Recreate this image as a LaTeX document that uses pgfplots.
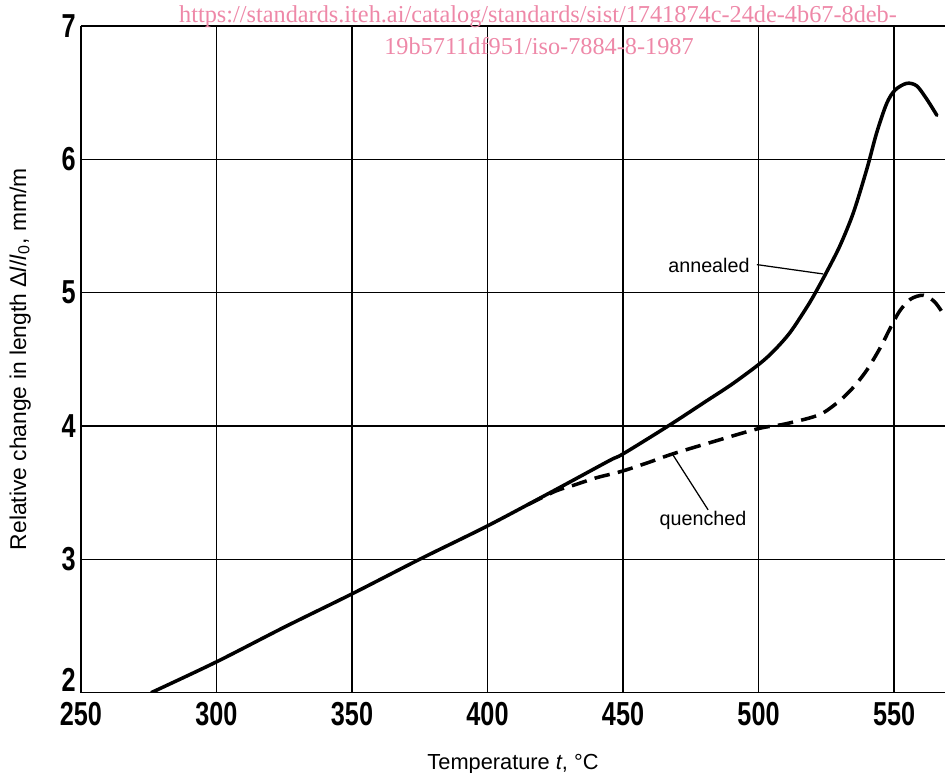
\documentclass[border=0pt]{standalone}
\usepackage{fontspec}
\setmainfont{Liberation Sans}
\newfontfamily\tickfont[FakeStretch=0.76]{Liberation Sans Bold}
\newfontfamily\wmfont{Liberation Serif}
\usepackage{pgfplots}
\pgfplotsset{compat=1.18}
\definecolor{Wm}{RGB}{238,136,168}

\pgfplotstableread{
t    dl
276   2.00
300   2.23
325   2.49
350   2.74
375   3.00
400   3.25
425   3.52
445   3.74
450   3.79
466.7 4.00
481   4.19
490   4.31
500   4.46
505.5 4.56
511.6 4.70
517.8 4.89
521   5.00
525   5.15
530   5.35
535   5.60
540   5.93
543.6 6.20
547.3 6.42
550.4 6.52
554.7 6.57
558.4 6.55
562.1 6.45
565.8 6.33
}\annealed
\pgfplotstableread{
t    dl
415   3.41
425   3.51
431.8 3.555
440   3.61
449.6 3.66
460   3.73
468.3 3.79
483   3.88
500   3.98
508.7 4.01
518.9 4.06
524   4.10
530   4.19
535   4.29
540   4.42
545   4.59
548.5 4.73
552   4.86
556   4.95
560.8 4.98
565   4.93
568.8 4.82
}\quenched

\begin{document}
\begin{tikzpicture}
\begin{axis}[scale only axis,width=14.629cm,height=11.285cm,
  xmin=250,xmax=568.8,ymin=2,ymax=7,
  axis lines=left,axis line style={-,line width=0.9pt},
  xtick={250,300,...,550},ytick={3,4,...,7},
  extra y ticks={2},
  extra y tick style={yticklabel style={anchor=south east,yshift=-3pt}},
  major tick length=0pt,
  grid=major,grid style={draw=black,line width=0.6pt},
  /pgf/number format/assume math mode=true,
  /pgf/number format/1000 sep={},
  tick label style={font=\tickfont\fontsize{16}{16}\selectfont},
  xticklabel style={yshift=-1pt},
  yticklabel style={xshift=1pt},
  xlabel={Temperature \textit{t}, °C},
  xlabel style={font=\fontsize{10.5}{12}\selectfont,yshift=-7pt},
  ylabel={Relative change in length Δ\textit{l}/\textit{l}\textsubscript{0}, mm/m},
  ylabel style={font=\fontsize{11}{12}\selectfont,yshift=8pt},
  clip mode=individual]
  \addplot[black,line width=1.7pt,smooth,line cap=round] table[x=t,y=dl]{\annealed};
  \addplot[black,line width=1.7pt,smooth,dash pattern=on 7.5pt off 4pt] table[x=t,y=dl]{\quenched};
  \node[font=\fontsize{9.5}{11}\selectfont] at (axis cs:481.7,5.20) {annealed};
  \draw[line width=0.6pt] (axis cs:499.4,5.21) -- (axis cs:523.8,5.14);
  \node[font=\fontsize{9.5}{11}\selectfont] at (axis cs:479.5,3.29) {quenched};
  \draw[line width=0.6pt] (axis cs:481.4,3.37) -- (axis cs:468.5,3.78);
\end{axis}
\node[font=\wmfont\fontsize{11.7}{13}\selectfont,text=Wm] at (7.738,11.437)
  {https://standards.iteh.ai/catalog/standards/sist/1741874c-24de-4b67-8deb-};
\node[font=\wmfont\fontsize{11.7}{13}\selectfont,text=Wm] at (7.755,10.946)
  {19b5711df951/iso-7884-8-1987};
\pgfresetboundingbox
\useasboundingbox (-1.371,-1.346) rectangle (14.629,11.725);
\end{tikzpicture}
\end{document}
